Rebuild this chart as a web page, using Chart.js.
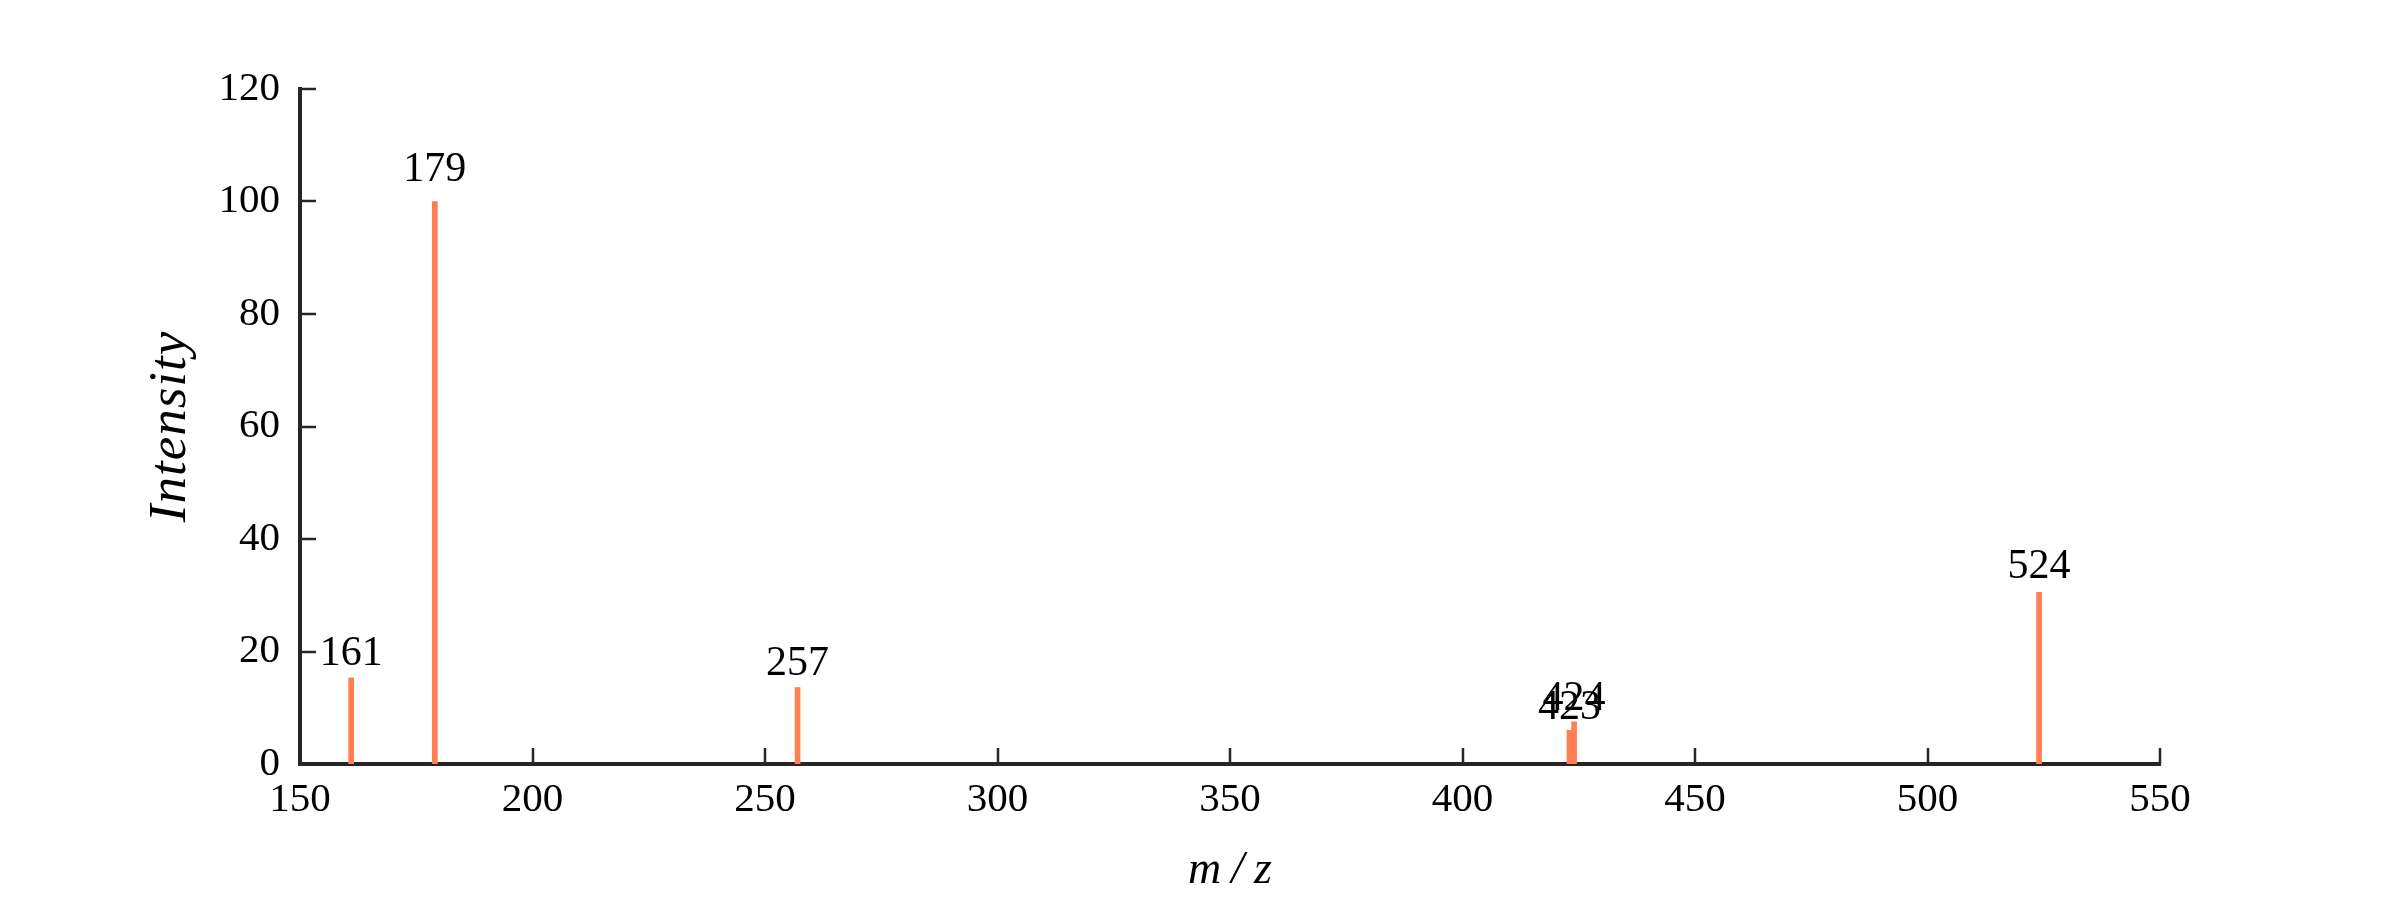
<!DOCTYPE html>
<html>
<head>
<meta charset="utf-8">
<script src="https://cdn.jsdelivr.net/npm/chart.js@4/dist/chart.umd.min.js"></script>
<style>
  html, body { margin: 0; padding: 0; background: #ffffff; }
  #wrap { width: 2400px; height: 900px; }
</style>
</head>
<body>
<div id="wrap"><canvas id="c" width="2400" height="900"></canvas></div>
<script>
// ---- data ----
const mzValues = [161, 179, 257, 423, 424, 524];
const intensities = [15.3, 100, 13.6, 6.0, 7.5, 30.5];
const peakLabels = ["161", "179", "257", "423", "424", "524"];
const xTicks = [150, 200, 250, 300, 350, 400, 450, 500, 550];
const yTicks = [0, 20, 40, 60, 80, 100, 120];
const xTitle = "m/z";
const yTitle = "Intensity";

const FONT = "'Liberation Serif', 'DejaVu Serif', serif";
const AXIS = "#262626";
const BAR = "#ff7f50";

const points = mzValues.map((m, i) => ({ x: m, y: intensities[i] }));

const decorPlugin = {
  id: 'decor',
  afterDraw(chart) {
    const ctx = chart.ctx;
    const xs = chart.scales.x, ys = chart.scales.y;
    const area = chart.chartArea;
    ctx.save();
    // inward tick marks
    ctx.strokeStyle = AXIS;
    ctx.lineWidth = 2.5;
    ctx.beginPath();
    xTicks.forEach(v => {
      const px = Math.round(xs.getPixelForValue(v));
      ctx.moveTo(px, area.bottom);
      ctx.lineTo(px, area.bottom - 16);
    });
    yTicks.forEach(v => {
      const py = Math.round(ys.getPixelForValue(v));
      ctx.moveTo(area.left, py);
      ctx.lineTo(area.left + 16, py);
    });
    ctx.stroke();
    // axis titles
    ctx.fillStyle = '#000';
    ctx.textBaseline = 'alphabetic';
    ctx.textAlign = 'center';
    ctx.font = "italic 46px " + FONT;
    ctx.letterSpacing = '10px';
    ctx.fillText(xTitle, (area.left + area.right) / 2 + 5, 883);
    ctx.font = "italic 53px " + FONT;
    ctx.letterSpacing = '1px';
    ctx.translate(185, (area.top + area.bottom) / 2);
    ctx.rotate(-Math.PI / 2);
    ctx.fillText(yTitle, 0, 0);
    ctx.restore();
  },
  afterDatasetsDraw(chart) {
    const ctx = chart.ctx;
    const meta = chart.getDatasetMeta(0);
    ctx.save();
    ctx.fillStyle = '#000';
    ctx.font = "42px " + FONT;
    ctx.textAlign = 'center';
    ctx.textBaseline = 'alphabetic';
    meta.data.forEach((el, i) => {
      const off = 11 + intensities[i] * 0.1;
      ctx.fillText(peakLabels[i], el.x, el.y - off);
    });
    ctx.restore();
  }
};

new Chart(document.getElementById('c'), {
  type: 'bar',
  data: {
    datasets: [{
      data: points,
      backgroundColor: BAR,
      borderWidth: 0,
      barThickness: 5
    }]
  },
  options: {
    responsive: false,
    animation: false,
    events: [],
    layout: { padding: { left: 0, right: 240, top: 89, bottom: 0 } },
    plugins: { legend: { display: false }, tooltip: { enabled: false } },
    scales: {
      x: {
        type: 'linear',
        offset: false,
        min: 150, max: 550,
        afterBuildTicks: s => { s.ticks = xTicks.map(v => ({ value: v })); },
        afterFit: s => { s.height = 136; },
        grid: { display: false, drawTicks: false, offset: false },
        border: { display: true, color: AXIS, width: 4 },
        ticks: { color: '#000', font: { family: FONT, size: 41 }, padding: 12, maxRotation: 0, autoSkip: false }
      },
      y: {
        type: 'linear',
        min: 0, max: 120,
        afterBuildTicks: s => { s.ticks = yTicks.map(v => ({ value: v })); },
        afterFit: s => { s.width = 300; },
        grid: { display: false, drawTicks: false },
        border: { display: true, color: AXIS, width: 4 },
        ticks: { color: '#000', font: { family: FONT, size: 41 }, padding: 20, autoSkip: false }
      }
    }
  },
  plugins: [decorPlugin]
});
</script>
</body>
</html>
